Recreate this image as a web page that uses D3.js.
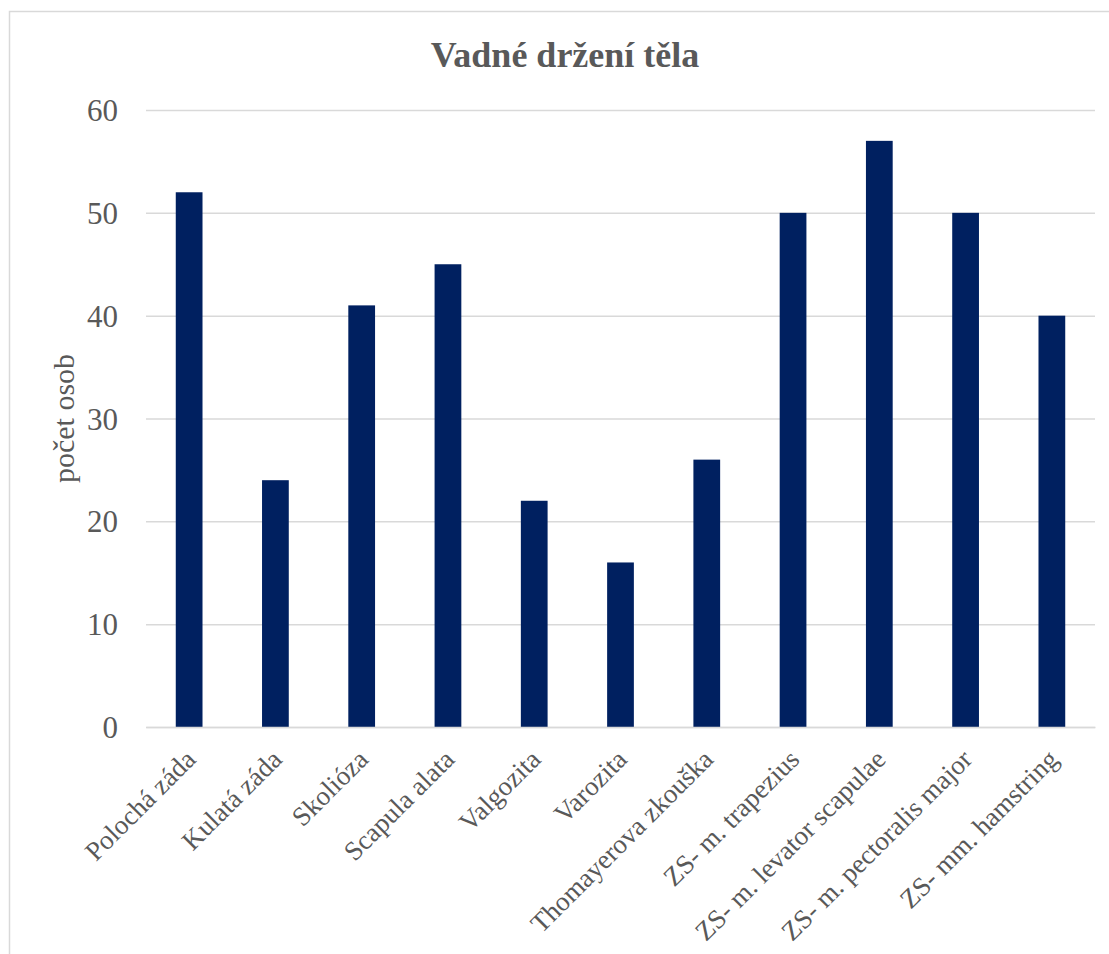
<!DOCTYPE html>
<html><head><meta charset="utf-8">
<script src="https://cdn.jsdelivr.net/npm/d3@7"></script>
<style>body{margin:0;background:#fff}svg{display:block}</style>
</head><body><svg id="c" width="1109" height="954"></svg>
<script>
const categories = ["Polochá záda","Kulatá záda","Skolióza","Scapula alata","Valgozita","Varozita","Thomayerova zkouška","ZS- m. trapezius","ZS- m. levator scapulae","ZS- m. pectoralis major","ZS- mm. hamstring"];
const values = [52,24,41,45,22,16,26,50,57,50,40];
const yTicks = [0,10,20,30,40,50,60];
const title = "Vadné držení těla";
const yLabel = "počet osob";

const svg = d3.select("#c");
const font = "'Liberation Serif','Times New Roman',serif";
const grey = "#595959";
// frame
svg.append("rect").attr("x",9.5).attr("y",11.5).attr("width",1120).attr("height",960)
  .attr("fill","#fff").attr("stroke","#d9d9d9").attr("stroke-width",1.5);

const m = {l:146, r:1095, t:110, b:727};
const x = d3.scaleBand().domain(categories).range([m.l,m.r]).paddingInner(0.69).paddingOuter(0.345);
const y = d3.scaleLinear().domain([0,60]).range([m.b,m.t]);

const yAxis = d3.axisLeft(y).tickValues(yTicks).tickSize(-(m.r-m.l)).tickPadding(28);
const gy = svg.append("g").attr("transform",`translate(${m.l},0)`).call(yAxis);
gy.select(".domain").remove();
gy.selectAll(".tick line").attr("stroke","#d9d9d9").attr("stroke-width",1.5);
gy.selectAll(".tick text").attr("fill",grey).style("font-family",font).style("font-size","31px").attr("dy","0.34em");

svg.append("g").selectAll("rect").data(values).join("rect")
  .attr("x",(d,i)=>x(categories[i])).attr("width",x.bandwidth())
  .attr("y",d=>y(d)).attr("height",d=>y(0)-y(d)).attr("fill","#002060");

const xAxis = d3.axisBottom(x).tickSize(0).tickPadding(0);
const gx = svg.append("g").attr("transform",`translate(0,${m.b})`).call(xAxis);
gx.select(".domain").attr("stroke","#d9d9d9").attr("stroke-width",1.5);
gx.selectAll(".tick text").attr("fill",grey).style("font-family",font).style("font-size","27px")
  .attr("text-anchor","end").attr("dy",0).attr("y",0)
  .attr("transform","translate(8,34) rotate(-45)");

svg.append("text").attr("x",565).attr("y",67).attr("text-anchor","middle")
  .attr("fill",grey).style("font-family",font).style("font-size","36px").style("font-weight","bold").text(title);

svg.append("text").attr("transform",`translate(74,${(m.t+m.b)/2}) rotate(-90)`).attr("text-anchor","middle")
  .attr("fill",grey).style("font-family",font).style("font-size","30px").text(yLabel);
</script></body></html>
